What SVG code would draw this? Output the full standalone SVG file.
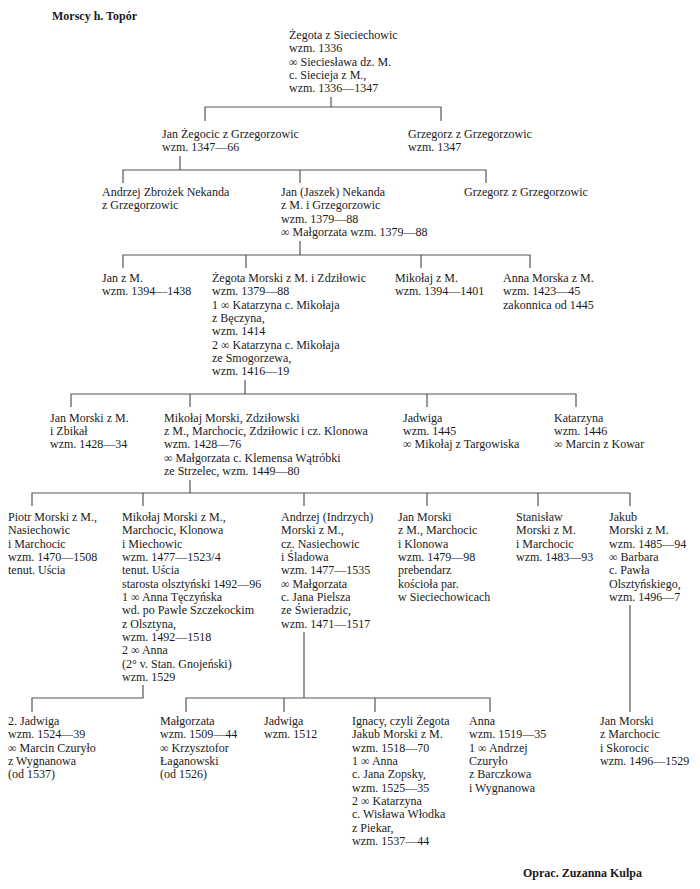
<svg xmlns="http://www.w3.org/2000/svg" width="700" height="889" viewBox="0 0 700 889">
<style>
text{font-family:"Liberation Serif","Times New Roman",serif;font-size:12px;fill:#1a1a1a}
.b{font-weight:bold;font-size:12px}
.c{fill:none;stroke:#555;stroke-width:1.2}
</style>
<rect width="700" height="889" fill="#fff"/>
<g id="title"><text class="b" x="52" y="20">Morscy h. Topór</text></g>
<g id="credit"><text class="b" x="523" y="877">Oprac. Zuzanna Kulpa</text></g>
<g id="connectors" class="c">
<path d="M331 97V107M205 121V107H441V121"/>
<path d="M180 156V170M123 183V170H486V183M300 170V183"/>
<path d="M300 241V255M123 268V255H530V268M246 255V268M421 255V268"/>
<path d="M245 380V394M71 407V394H576V407M190 394V407M427 394V407"/>
<path d="M190 480V493M32 506V493H630V506M143 493V506M304 493V506M427 493V506M538 493V506"/>
<path d="M143 685V698H32V712"/>
<path d="M304 632V698M186 712V698H490V712M284 698V712M375 698V712"/>
<path d="M630 605V712"/>
</g>
<g id="zegota1"><text>
<tspan x="289" y="39">Żegota z Sieciechowic</tspan>
<tspan x="289" y="52.3">wzm. 1336</tspan>
<tspan x="289" y="65.7">∞ Sieciesława dz. M.</tspan>
<tspan x="289" y="79">c. Siecieja z M.,</tspan>
<tspan x="289" y="92.3">wzm. 1336—1347</tspan>
</text></g>
<g id="jan-zegocic"><text>
<tspan x="162" y="137.5">Jan Żegocic z Grzegorzowic</tspan>
<tspan x="162" y="150.8">wzm. 1347—66</tspan>
</text></g>
<g id="grzegorz1"><text>
<tspan x="408" y="137.5">Grzegorz z Grzegorzowic</tspan>
<tspan x="408" y="150.8">wzm. 1347</tspan>
</text></g>
<g id="andrzej-zbrozek"><text>
<tspan x="102" y="196">Andrzej Zbrożek Nekanda</tspan>
<tspan x="102" y="209.3">z Grzegorzowic</tspan>
</text></g>
<g id="jan-jaszek"><text>
<tspan x="281" y="196">Jan (Jaszek) Nekanda</tspan>
<tspan x="281" y="209.3">z M. i Grzegorzowic</tspan>
<tspan x="281" y="222.7">wzm. 1379—88</tspan>
<tspan x="281" y="236">∞ Małgorzata wzm. 1379—88</tspan>
</text></g>
<g id="grzegorz2"><text>
<tspan x="464" y="196">Grzegorz z Grzegorzowic</tspan>
</text></g>
<g id="jan-zm"><text>
<tspan x="102" y="282">Jan z M.</tspan>
<tspan x="102" y="295.3">wzm. 1394—1438</tspan>
</text></g>
<g id="zegota-morski"><text>
<tspan x="212" y="282">Żegota Morski z M. i Zdziłowic</tspan>
<tspan x="212" y="295.3">wzm. 1379—88</tspan>
<tspan x="212" y="308.7">1 ∞ Katarzyna c. Mikołaja</tspan>
<tspan x="212" y="322">z Bęczyna,</tspan>
<tspan x="212" y="335.3">wzm. 1414</tspan>
<tspan x="212" y="348.7">2 ∞ Katarzyna c. Mikołaja</tspan>
<tspan x="212" y="362">ze Smogorzewa,</tspan>
<tspan x="212" y="375.3">wzm. 1416—19</tspan>
</text></g>
<g id="mikolaj-zm"><text>
<tspan x="395" y="282">Mikołaj z M.</tspan>
<tspan x="395" y="295.3">wzm. 1394—1401</tspan>
</text></g>
<g id="anna-morska"><text>
<tspan x="503" y="282">Anna Morska z M.</tspan>
<tspan x="503" y="295.3">wzm. 1423—45</tspan>
<tspan x="503" y="308.7">zakonnica od 1445</tspan>
</text></g>
<g id="jan-morski-zbikal"><text>
<tspan x="50" y="421.7">Jan Morski z M.</tspan>
<tspan x="50" y="435">i Zbikał</tspan>
<tspan x="50" y="448.3">wzm. 1428—34</tspan>
</text></g>
<g id="mikolaj-zdzilowski"><text>
<tspan x="164" y="421.7">Mikołaj Morski, Zdziłowski</tspan>
<tspan x="164" y="435">z M., Marchocic, Zdziłowic i cz. Klonowa</tspan>
<tspan x="164" y="448.3">wzm. 1428—76</tspan>
<tspan x="164" y="461.7">∞ Małgorzata c. Klemensa Wątróbki</tspan>
<tspan x="164" y="475">ze Strzelec, wzm. 1449—80</tspan>
</text></g>
<g id="jadwiga1"><text>
<tspan x="403" y="421.7">Jadwiga</tspan>
<tspan x="403" y="435">wzm. 1445</tspan>
<tspan x="403" y="448.3">∞ Mikołaj z Targowiska</tspan>
</text></g>
<g id="katarzyna1"><text>
<tspan x="554" y="421.7">Katarzyna</tspan>
<tspan x="554" y="435">wzm. 1446</tspan>
<tspan x="554" y="448.3">∞ Marcin z Kowar</tspan>
</text></g>
<g id="piotr"><text>
<tspan x="8" y="521">Piotr Morski z M.,</tspan>
<tspan x="8" y="534.3">Nasiechowic</tspan>
<tspan x="8" y="547.7">i Marchocic</tspan>
<tspan x="8" y="561">wzm. 1470—1508</tspan>
<tspan x="8" y="574.3">tenut. Uścia</tspan>
</text></g>
<g id="mikolaj-klonowa"><text>
<tspan x="122" y="521">Mikołaj Morski z M.,</tspan>
<tspan x="122" y="534.3">Marchocic, Klonowa</tspan>
<tspan x="122" y="547.7">i Miechowic</tspan>
<tspan x="122" y="561">wzm. 1477—1523/4</tspan>
<tspan x="122" y="574.3">tenut. Uścia</tspan>
<tspan x="122" y="587.7">starosta olsztyński 1492—96</tspan>
<tspan x="122" y="601">1 ∞ Anna Tęczyńska</tspan>
<tspan x="122" y="614.3">wd. po Pawle Szczekockim</tspan>
<tspan x="122" y="627.7">z Olsztyna,</tspan>
<tspan x="122" y="641">wzm. 1492—1518</tspan>
<tspan x="122" y="654.3">2 ∞ Anna</tspan>
<tspan x="122" y="667.7">(2° v. Stan. Gnojeński)</tspan>
<tspan x="122" y="681">wzm. 1529</tspan>
</text></g>
<g id="andrzej-indrzych"><text>
<tspan x="281" y="521">Andrzej (Indrzych)</tspan>
<tspan x="281" y="534.3">Morski z M.,</tspan>
<tspan x="281" y="547.7">cz. Nasiechowic</tspan>
<tspan x="281" y="561">i Śladowa</tspan>
<tspan x="281" y="574.3">wzm. 1477—1535</tspan>
<tspan x="281" y="587.7">∞ Małgorzata</tspan>
<tspan x="281" y="601">c. Jana Pielsza</tspan>
<tspan x="281" y="614.3">ze Świeradzic,</tspan>
<tspan x="281" y="627.7">wzm. 1471—1517</tspan>
</text></g>
<g id="jan-morski-klonowa"><text>
<tspan x="398" y="521">Jan Morski</tspan>
<tspan x="398" y="534.3">z M., Marchocic</tspan>
<tspan x="398" y="547.7">i Klonowa</tspan>
<tspan x="398" y="561">wzm. 1479—98</tspan>
<tspan x="398" y="574.3">prebendarz</tspan>
<tspan x="398" y="587.7">kościoła par.</tspan>
<tspan x="398" y="601">w Sieciechowicach</tspan>
</text></g>
<g id="stanislaw"><text>
<tspan x="516" y="521">Stanisław</tspan>
<tspan x="516" y="534.3">Morski z M.</tspan>
<tspan x="516" y="547.7">i Marchocic</tspan>
<tspan x="516" y="561">wzm. 1483—93</tspan>
</text></g>
<g id="jakub"><text>
<tspan x="609" y="521">Jakub</tspan>
<tspan x="609" y="534.3">Morski z M.</tspan>
<tspan x="609" y="547.7">wzm. 1485—94</tspan>
<tspan x="609" y="561">∞ Barbara</tspan>
<tspan x="609" y="574.3">c. Pawła</tspan>
<tspan x="609" y="587.7">Olsztyńskiego,</tspan>
<tspan x="609" y="601">wzm. 1496—7</tspan>
</text></g>
<g id="jadwiga2"><text>
<tspan x="8" y="725">2. Jadwiga</tspan>
<tspan x="8" y="738.3">wzm. 1524—39</tspan>
<tspan x="8" y="751.7">∞ Marcin Czuryło</tspan>
<tspan x="8" y="765">z Wygnanowa</tspan>
<tspan x="8" y="778.3">(od 1537)</tspan>
</text></g>
<g id="malgorzata"><text>
<tspan x="160" y="725">Małgorzata</tspan>
<tspan x="160" y="738.3">wzm. 1509—44</tspan>
<tspan x="160" y="751.7">∞ Krzysztofor</tspan>
<tspan x="160" y="765">Łaganowski</tspan>
<tspan x="160" y="778.3">(od 1526)</tspan>
</text></g>
<g id="jadwiga3"><text>
<tspan x="264" y="725">Jadwiga</tspan>
<tspan x="264" y="738.3">wzm. 1512</tspan>
</text></g>
<g id="ignacy"><text>
<tspan x="352" y="725">Ignacy, czyli Żegota</tspan>
<tspan x="352" y="738.3">Jakub Morski z M.</tspan>
<tspan x="352" y="751.7">wzm. 1518—70</tspan>
<tspan x="352" y="765">1 ∞ Anna</tspan>
<tspan x="352" y="778.3">c. Jana Zopsky,</tspan>
<tspan x="352" y="791.7">wzm. 1525—35</tspan>
<tspan x="352" y="805">2 ∞ Katarzyna</tspan>
<tspan x="352" y="818.3">c. Wisława Włodka</tspan>
<tspan x="352" y="831.7">z Piekar,</tspan>
<tspan x="352" y="845">wzm. 1537—44</tspan>
</text></g>
<g id="anna2"><text>
<tspan x="469" y="725">Anna</tspan>
<tspan x="469" y="738.3">wzm. 1519—35</tspan>
<tspan x="469" y="751.7">1 ∞ Andrzej</tspan>
<tspan x="469" y="765">Czuryło</tspan>
<tspan x="469" y="778.3">z Barczkowa</tspan>
<tspan x="469" y="791.7">i Wygnanowa</tspan>
</text></g>
<g id="jan-morski-skorocic"><text>
<tspan x="600" y="725">Jan Morski</tspan>
<tspan x="600" y="738.3">z Marchocic</tspan>
<tspan x="600" y="751.7">i Skorocic</tspan>
<tspan x="600" y="765">wzm. 1496—1529</tspan>
</text></g>
</svg>
